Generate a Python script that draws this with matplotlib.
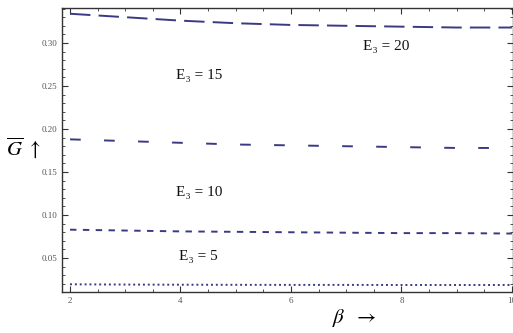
import matplotlib
matplotlib.use('Agg')
import matplotlib.pyplot as plt
from matplotlib.ticker import MultipleLocator

# beta values and G-bar for each E3 level
beta = [2, 3, 4, 5, 6, 7, 8, 9, 10]
g_e20 = [0.334, 0.330, 0.326, 0.323, 0.321, 0.320, 0.319, 0.318, 0.318]
g_e15 = [0.188, 0.186, 0.184, 0.182, 0.181, 0.180, 0.179, 0.178, 0.178]
g_e10 = [0.083, 0.082, 0.081, 0.0805, 0.080, 0.0795, 0.079, 0.079, 0.0785]
g_e5 = [0.0195, 0.0192, 0.0190, 0.0189, 0.0188, 0.0188, 0.0187, 0.0187, 0.0187]

labels = ['E₃ = 20', 'E₃ = 15', 'E₃ = 10', 'E₃ = 5']
xticks = [2, 4, 6, 8, 10]
yticks = [0.05, 0.10, 0.15, 0.20, 0.25, 0.30]

plt.rcParams['font.family'] = ['Liberation Serif', 'DejaVu Serif']
plt.rcParams['mathtext.fontset'] = 'stix'

col = '#3a3a82'
fig = plt.figure(figsize=(5.13, 3.33), dpi=100)
ax = fig.add_axes([0.1209, 0.123, 0.8791, 0.853])

ax.plot(beta, g_e20, color=col, lw=1.4, dashes=(10.5, 4.2))
ax.plot(beta, g_e15, color=col, lw=1.4, dashes=(5.5, 12))
ax.plot(beta, g_e10, color=col, lw=1.4, dashes=(3.3, 3.3))
ax.plot(beta, g_e5, color=col, lw=1.4, dashes=(1, 1.5))

ax.set_xlim(1.855, 10.02)
ax.set_ylim(0.0105, 0.3407)

ax.set_xticks(xticks)
ax.set_xticklabels(['2', '4', '6', '8', '10'])
ax.set_yticks(yticks)
ax.set_yticklabels(['%.2f' % v for v in yticks])
ax.xaxis.set_minor_locator(MultipleLocator(0.5))
ax.yaxis.set_minor_locator(MultipleLocator(0.01))
ax.tick_params(which='both', direction='in', top=True, right=True,
               labelsize=6.5, labelcolor='#555555', color='#333333')
ax.tick_params(which='major', length=4, width=0.8)
ax.tick_params(which='minor', length=2, width=0.6)
for s in ax.spines.values():
    s.set_linewidth(1.0)
    s.set_color('#333333')

# curve labels
txt_pos = [(7.72, 0.296), (4.33, 0.262), (4.33, 0.126), (4.33, 0.052)]
for (x, y), t in zip(txt_pos, labels):
    ax.text(x, y, t, fontsize=11, ha='center', va='center', color='#111111')

fig.text(0.045, 0.556, r'$\overline{G}\ \uparrow$', fontsize=15, ha='center', va='center')
fig.text(0.69, 0.045, r'$\beta\ \ \rightarrow$', fontsize=15, ha='center', va='center')

plt.savefig('out.png', dpi=100)
plt.close()
